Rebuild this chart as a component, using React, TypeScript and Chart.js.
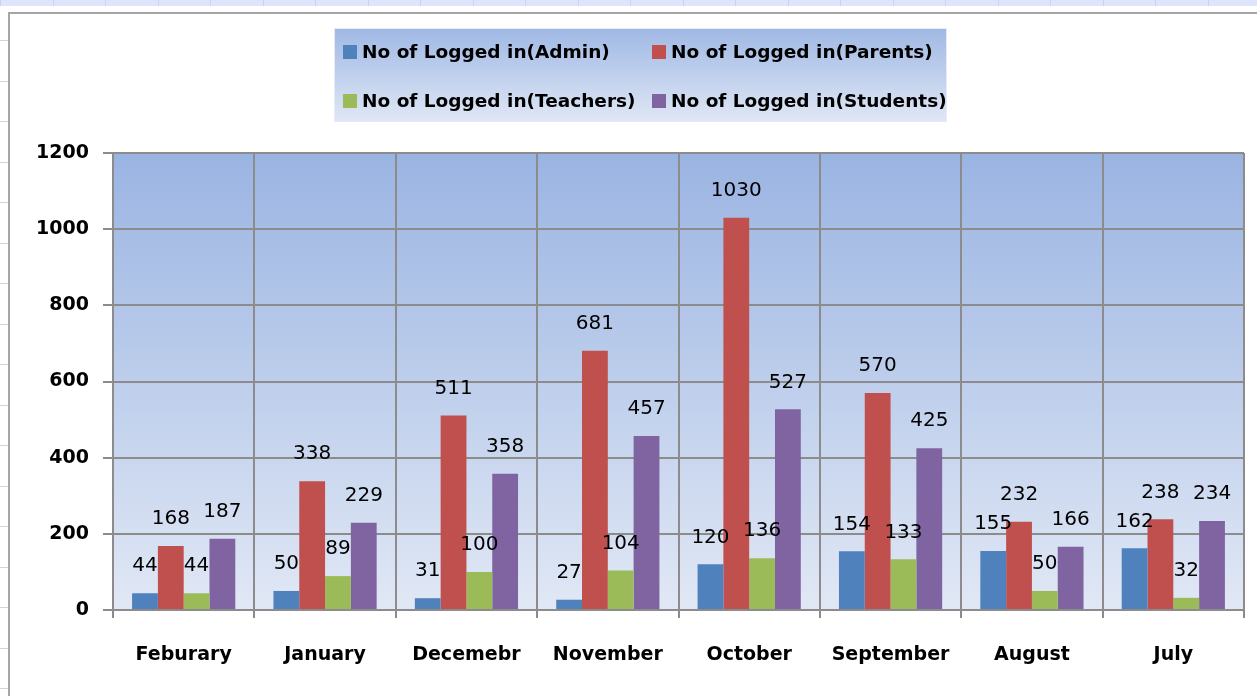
import React, { useEffect, useRef } from "react";
import { Chart, registerables } from "chart.js";

Chart.register(...registerables);

const categories = ["Feburary", "January", "Decemebr", "November", "October", "September", "August", "July"];
const adminValues = [44, 50, 31, 27, 120, 154, 155, 162];
const parentsValues = [168, 338, 511, 681, 1030, 570, 232, 238];
const teachersValues = [44, 89, 100, 104, 136, 133, 50, 32];
const studentsValues = [187, 229, 358, 457, 527, 425, 166, 234];
const seriesNames = [
  "No of Logged in(Admin)",
  "No of Logged in(Parents)",
  "No of Logged in(Teachers)",
  "No of Logged in(Students)",
];
const seriesColors = ["#4f81bd", "#c0504d", "#9bbb59", "#8064a2"];
const yTicks = [0, 200, 400, 600, 800, 1000, 1200];

const W = 1257;
const H = 696;

const backgroundPlugin = {
  id: "sheetBackground",
  beforeDraw(chart: any) {
    const ctx = chart.ctx;
    const ca = chart.chartArea;
    ctx.save();
    ctx.fillStyle = "#ffffff";
    ctx.fillRect(0, 0, W, H);
    ctx.fillStyle = "#dde5fb";
    ctx.fillRect(0, 0, W, 6);
    ctx.strokeStyle = "#c9d3ee";
    ctx.lineWidth = 1;
    for (let x = 0; x < W; x += 52.5) {
      ctx.beginPath();
      ctx.moveTo(Math.round(x) + 0.5, 0);
      ctx.lineTo(Math.round(x) + 0.5, 6);
      ctx.stroke();
    }
    ctx.strokeStyle = "#ccd5e8";
    for (let y = 40; y < H; y += 40.5) {
      ctx.beginPath();
      ctx.moveTo(0, Math.round(y) + 0.5);
      ctx.lineTo(8, Math.round(y) + 0.5);
      ctx.stroke();
    }
    ctx.strokeStyle = "#a6a6a6";
    ctx.lineWidth = 2;
    ctx.beginPath();
    ctx.moveTo(9, H + 2);
    ctx.lineTo(9, 13);
    ctx.lineTo(W + 2, 13);
    ctx.stroke();
    const g = ctx.createLinearGradient(0, ca.top, 0, ca.bottom);
    g.addColorStop(0, "#9ab4e2");
    g.addColorStop(1, "#e1e8f5");
    ctx.fillStyle = g;
    ctx.fillRect(ca.left, ca.top, ca.right - ca.left, ca.bottom - ca.top);
    const lx = 334, ly = 28, lw = 613, lh = 94;
    const lg = ctx.createLinearGradient(0, ly, 0, ly + lh);
    lg.addColorStop(0, "#9fb8e4");
    lg.addColorStop(1, "#e0e7f5");
    ctx.fillStyle = lg;
    ctx.fillRect(lx, ly, lw, lh);
    ctx.strokeStyle = "#e6ebf5";
    ctx.lineWidth = 1;
    ctx.strokeRect(lx + 0.5, ly + 0.5, lw - 1, lh - 1);
    const cols = [343, 652];
    const rows = [52, 101];
    ctx.font = "bold 18.5px 'DejaVu Sans'";
    ctx.textBaseline = "middle";
    ctx.textAlign = "left";
    for (let i = 0; i < seriesNames.length; i++) {
      const cx = cols[i % 2];
      const cy = rows[Math.floor(i / 2)];
      ctx.fillStyle = seriesColors[i];
      ctx.fillRect(cx, cy - 7, 14, 14);
      ctx.fillStyle = "#000000";
      ctx.fillText(seriesNames[i], cx + 19, cy + 1);
    }
    ctx.restore();
  },
};

const labelsPlugin = {
  id: "barValueLabels",
  afterDatasetsDraw(chart: any) {
    const ctx = chart.ctx;
    ctx.save();
    ctx.font = "20px 'DejaVu Sans'";
    ctx.fillStyle = "#000000";
    ctx.textAlign = "center";
    ctx.textBaseline = "middle";
    chart.data.datasets.forEach((ds: any, di: number) => {
      const meta = chart.getDatasetMeta(di);
      meta.data.forEach((bar: any, i: number) => {
        ctx.fillText(String(ds.data[i]), bar.x, bar.y - 27);
      });
    });
    ctx.restore();
  },
};

export default function App() {
  const ref = useRef<HTMLCanvasElement | null>(null);

  useEffect(() => {
    if (!ref.current) return;
    const valueSets = [adminValues, parentsValues, teachersValues, studentsValues];
    const chart = new Chart(ref.current, {
      type: "bar",
      data: {
        labels: categories,
        datasets: valueSets.map((vals, i) => ({
          label: seriesNames[i],
          data: vals,
          backgroundColor: seriesColors[i],
          borderWidth: 0,
          categoryPercentage: 0.73,
          barPercentage: 1.0,
        })),
      },
      options: {
        responsive: false,
        animation: false,
        devicePixelRatio: 1,
        layout: { padding: { top: 153, right: 13, left: 0, bottom: 0 } },
        plugins: {
          legend: { display: false },
          title: { display: false },
          tooltip: { enabled: false },
        },
        scales: {
          x: {
            grid: {
              offset: true,
              color: "#8c8c8c",
              lineWidth: 2,
              tickLength: 8,
              drawOnChartArea: true,
            },
            border: { color: "#8c8c8c", width: 2 },
            ticks: {
              color: "#000000",
              font: { family: "'DejaVu Sans'", size: 19, weight: "bold" },
              padding: 26,
              maxRotation: 0,
              autoSkip: false,
            },
            afterFit(scale: any) {
              scale.height = 86;
            },
          },
          y: {
            min: 0,
            max: 1200,
            afterBuildTicks(scale: any) {
              scale.ticks = yTicks.map((v) => ({ value: v }));
            },
            grid: { color: "#8c8c8c", lineWidth: 2, tickLength: 10 },
            border: { color: "#8c8c8c", width: 2 },
            ticks: {
              color: "#000000",
              font: { family: "'DejaVu Sans'", size: 19, weight: "bold" },
              padding: 14,
              callback: (v: any) => String(v),
            },
            afterFit(scale: any) {
              scale.width = 113;
            },
          },
        },
      },
      plugins: [backgroundPlugin, labelsPlugin],
    } as any);
    return () => chart.destroy();
  }, []);

  return (
    <div style={{ position: "fixed", left: 0, top: 0, width: W, height: H, overflow: "hidden", background: "#fff" }}>
      <canvas ref={ref} width={W} height={H} style={{ display: "block", width: W, height: H }} />
    </div>
  );
}
